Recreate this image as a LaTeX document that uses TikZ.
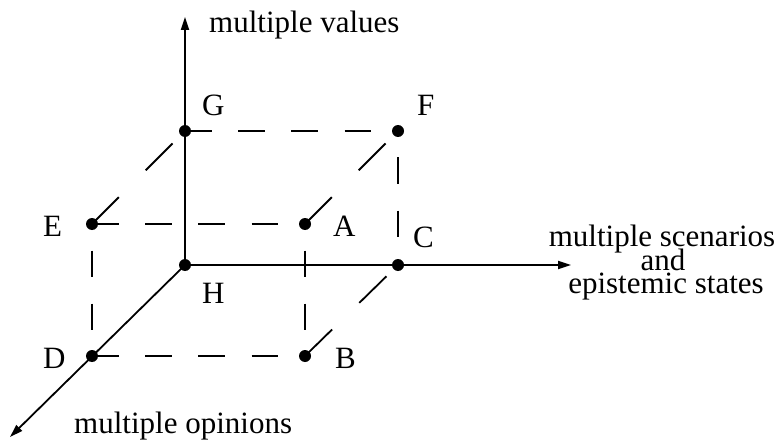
\documentclass[tikz,border=0pt]{standalone}
\usepackage{fontspec}
\setmainfont{Liberation Serif}
\usetikzlibrary{arrows.meta}
\begin{document}
\begin{tikzpicture}[x=1pt,y=-1pt,
  dot/.style={circle,fill=black,inner sep=0pt,minimum size=12pt},
  lbl/.style={anchor=base west,inner sep=0pt,font=\fontsize{31}{23.5}\selectfont},
  lblc/.style={anchor=base,inner sep=0pt,font=\fontsize{31}{23.5}\selectfont},
  axis/.style={line width=1.8pt,-{Triangle[length=13pt,width=8pt]}},
  hdash/.style={line width=1.8pt,dash pattern=on 26.6pt off 26.6pt},
  vdash/.style={line width=1.8pt,dash pattern=on 26.5pt off 26.5pt,dash phase=26.5pt},
  ddash/.style={line width=1.8pt,dash pattern=on 38pt off 38pt}]
\useasboundingbox (0,0) rectangle (782,441);
% points
\coordinate (Hc) at (185,265);
\coordinate (Gc) at (185,131);
\coordinate (Fc) at (398,131);
\coordinate (Ec) at (92,224);
\coordinate (Ac) at (305,224);
\coordinate (Cc) at (398,265);
\coordinate (Dc) at (92,356);
\coordinate (Bc) at (305,356);
\coordinate (up) at (185,17);
\coordinate (right) at (571,265);
\coordinate (down) at (10,437);
% dashed cube edges
\draw[hdash] (Gc) -- (Fc);
\draw[hdash] (Ec) -- (Ac);
\draw[hdash] (Dc) -- (Bc);
\draw[vdash] (Ec) -- (Dc);
\draw[vdash] (Ac) -- (Bc);
\draw[vdash] (Fc) -- (Cc);
\draw[ddash] (Ec) -- (Gc);
\draw[ddash] (Ac) -- (Fc);
\draw[ddash] (Bc) -- (Cc);
% axes
\draw[axis] (Hc) -- (up);
\draw[axis] (Hc) -- (right);
\draw[axis] (Hc) -- (down);
% dots
\foreach \p in {H,G,F,E,A,C,D,B} \node[dot] (\p) at (\p c) {};
% labels
\node[lbl] (lv) at (209,33) {multiple values};
\node[lbl] (lG) at (202,116) {G};
\node[lbl] (lF) at (417,116) {F};
\node[lbl] (lE) at (43,236) {E};
\node[lbl] (lA) at (333,236) {A};
\node[lbl] (lC) at (413,247) {C};
\node[lbl] (lH) at (202,303) {H};
\node[lbl] (lD) at (43,368) {D};
\node[lbl] (lB) at (335,368) {B};
\node[lbl] (lo) at (74,433) {multiple opinions};
\node[lblc] (s1) at (662,246) {multiple scenarios};
\node[lblc] (s2) at (663,270) {and};
\node[lblc] (s3) at (666,293) {epistemic states};
\end{tikzpicture}
\end{document}
